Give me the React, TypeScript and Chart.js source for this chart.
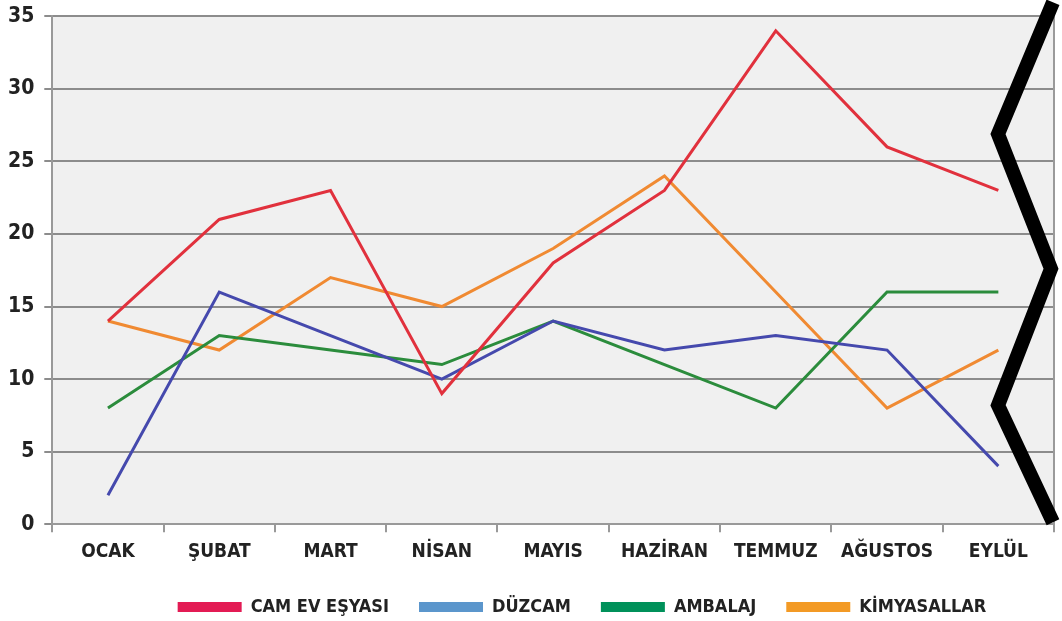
import React, { useEffect, useRef } from "react";
import { Chart, registerables } from "chart.js";

Chart.register(...registerables);

const categories = ["OCAK", "ŞUBAT", "MART", "NİSAN", "MAYIS", "HAZİRAN", "TEMMUZ", "AĞUSTOS", "EYLÜL"];
const seriesNames = ["CAM EV EŞYASI", "DÜZCAM", "AMBALAJ", "KİMYASALLAR"];
const camEvEsyasi = [14, 21, 23, 9, 18, 23, 34, 26, 23];
const duzcam = [2, 16, 13, 10, 14, 12, 13, 12, 4];
const ambalaj = [8, 13, 12, 11, 14, 11, 8, 16, 16];
const kimyasallar = [14, 12, 17, 15, 19, 24, 16, 8, 12];
const lineColors = ["#e1313d", "#4549ad", "#2b8c3c", "#f08a32"];
const legendColors = ["#e31b54", "#5b96cc", "#00915a", "#f39a25"];

const FONT = "'DejaVu Sans', sans-serif";
const WEIGHT = "bold condensed";

const decorPlugin = {
  id: "decor",
  beforeInit(chart: any) {
    const legend = chart.legend;
    if (legend) {
      const origFit = legend.fit;
      legend.fit = function () {
        origFit.call(this);
        this.height = 50;
      };
      const origDraw = legend.draw;
      legend.draw = function () {
        const saved = [this.top, this.left, this.right];
        this.top -= 3;
        this.left += 56;
        this.right += 56;
        origDraw.call(this);
        this.top = saved[0];
        this.left = saved[1];
        this.right = saved[2];
      };
    }
  },
  beforeDraw(chart: any) {
    const { ctx, chartArea: ca } = chart;
    ctx.save();
    ctx.fillStyle = "#f0f0f0";
    ctx.fillRect(ca.left, ca.top, ca.right - ca.left, ca.bottom - ca.top);
    ctx.restore();
  },
  afterDraw(chart: any) {
    const { ctx, chartArea: ca } = chart;
    ctx.save();
    ctx.strokeStyle = "#9a9a9a";
    ctx.lineWidth = 2;
    ctx.beginPath();
    ctx.moveTo(ca.right, ca.top);
    ctx.lineTo(ca.right, ca.bottom);
    ctx.stroke();
    const h = ca.bottom - ca.top;
    const r = ca.right - 3;
    const l = ca.right - 56;
    ctx.strokeStyle = "#000";
    ctx.lineWidth = 14;
    ctx.lineJoin = "miter";
    ctx.beginPath();
    ctx.moveTo(r + 2, ca.top - 14);
    ctx.lineTo(l, ca.top + h * 0.232);
    ctx.lineTo(r, ca.top + h * 0.497);
    ctx.lineTo(l, ca.top + h * 0.766);
    ctx.lineTo(r + 2, ca.bottom - 2);
    ctx.stroke();
    ctx.restore();
  },
};

export default function App() {
  const ref = useRef<HTMLCanvasElement>(null);
  useEffect(() => {
    document.body.style.margin = "0";
    const data = [camEvEsyasi, duzcam, ambalaj, kimyasallar];
    const chart = new Chart(ref.current!, {
      type: "line",
      data: {
        labels: categories,
        datasets: seriesNames.map((name, i) => ({
          label: name,
          data: data[i],
          borderColor: lineColors[i],
          backgroundColor: legendColors[i],
          borderWidth: 3,
          pointRadius: 0,
          tension: 0,
        })),
      },
      options: {
        animation: false,
        responsive: false,
        maintainAspectRatio: false,
        layout: { padding: { top: 0, right: 8, left: -2, bottom: 0 } },
        plugins: {
          tooltip: { enabled: false },
          legend: {
            position: "bottom",
            labels: {
              boxWidth: 64,
              boxHeight: 10,
              padding: 30,
              color: "#222",
              font: { family: FONT, size: 18, weight: WEIGHT as any },
              generateLabels: () =>
                seriesNames.map((name, i) => ({
                  text: name,
                  fillStyle: legendColors[i],
                  strokeStyle: legendColors[i],
                  lineWidth: 0,
                  hidden: false,
                  datasetIndex: i,
                  fontColor: "#222",
                })),
            },
          },
        },
        scales: {
          x: {
            offset: true,
            grid: { drawOnChartArea: false, drawTicks: true, tickLength: 8, color: "#999", lineWidth: 2, offset: true },
            border: { display: true, color: "#999", width: 2 },
            ticks: { color: "#222", font: { family: FONT, size: 19, weight: WEIGHT as any }, padding: 8, maxRotation: 0 },
          },
          y: {
            min: 0,
            max: 35,
            ticks: { stepSize: 5, color: "#222", font: { family: FONT, size: 21, weight: WEIGHT as any, lineHeight: 0.6 }, padding: 10 },
            grid: { color: "#8c8c8c", lineWidth: 2, tickLength: 8 },
            border: { display: true, color: "#999", width: 2 },
          },
        },
      },
      plugins: [decorPlugin],
    });
    return () => chart.destroy();
  }, []);
  return (
    <div style={{ width: 1062, height: 621 }}>
      <canvas ref={ref} width={1062} height={621} style={{ display: "block" }} />
    </div>
  );
}
